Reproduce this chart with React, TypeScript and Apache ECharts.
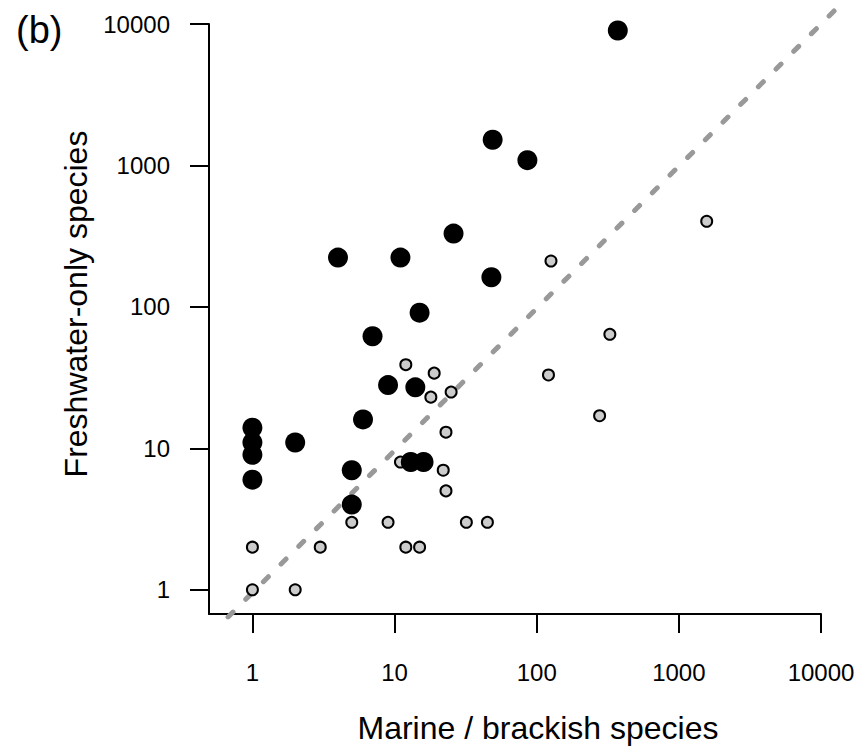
import React, { useEffect, useRef } from "react";
import * as echarts from "echarts";

// ---- data ----
const tickValues = [1, 10, 100, 1000, 10000];

// large black points
const blackX = [372, 49, 86, 26, 48, 4, 11, 15, 7, 9, 14, 6, 1, 1, 1, 1, 2, 5, 5, 13, 16];
const blackY = [9000, 1520, 1090, 330, 162, 223, 223, 91, 62, 28, 27, 16, 14, 11, 9, 6, 11, 7, 4, 8, 8];

// small grey points
const greyX = [1570, 126, 327, 121, 277, 12, 19, 25, 18, 23, 11, 22, 23, 5, 9, 32, 45, 1, 3, 12, 15, 1, 2];
const greyY = [403, 211, 64, 33, 17, 39, 34, 25, 23, 13, 8, 7, 5, 3, 3, 3, 3, 2, 2, 2, 2, 1, 1];

// 1:1 reference line (x = y), start and end values
const oneToOne = [0.674, 14000];

// axis extents (visible axes)
const xMin = 0.495;
const xMax = 10000;
const yMin = 0.674;
const yMax = 10000;
// extents of the full plotting region (the 1:1 line runs past the axes to the page edge)
const xMaxFull = 19410;
const yMaxFull = 14750;

const FONT = "'Liberation Sans', Arial, Helvetica, sans-serif";

export default function App() {
  const ref = useRef<HTMLDivElement>(null);

  useEffect(() => {
    if (!ref.current) return;
    const chart = echarts.init(ref.current, undefined, { renderer: "svg" });

    const fmt = (v: number) => String(Math.round(v));

    const hiddenAxis = {
      type: "log",
      logBase: 10,
      gridIndex: 1,
      show: false,
      axisLine: { show: false },
      axisTick: { show: false },
      axisLabel: { show: false },
      splitLine: { show: false },
    };

    const option: any = {
      animation: false,
      backgroundColor: "#ffffff",
      title: {
        text: "(b)",
        left: 11,
        top: 6,
        textStyle: { fontSize: 38, fontWeight: "normal", color: "#000", fontFamily: FONT },
      },
      grid: [
        { left: 209, right: 41, top: 24, bottom: 132, containLabel: false },
        { left: 209, right: 0, top: 0, bottom: 132, containLabel: false },
      ],
      xAxis: [
        {
          type: "log",
          logBase: 10,
          gridIndex: 0,
          min: xMin,
          max: xMax,
          name: "Marine / brackish species",
          nameLocation: "middle",
          nameGap: 98,
          nameTextStyle: { fontSize: 32, color: "#000", fontFamily: FONT, padding: [0, 0, 0, 46] },
          axisLine: { show: true, lineStyle: { color: "#000", width: 2 } },
          axisTick: {
            show: true,
            length: 19,
            customValues: tickValues,
            lineStyle: { color: "#000", width: 2 },
          },
          axisLabel: {
            customValues: tickValues,
            margin: 46,
            fontSize: 24,
            color: "#000",
            fontFamily: FONT,
            formatter: fmt,
          },
          splitLine: { show: false },
          minorTick: { show: false },
          minorSplitLine: { show: false },
        },
        { ...hiddenAxis, min: xMin, max: xMaxFull },
      ],
      yAxis: [
        {
          type: "log",
          logBase: 10,
          gridIndex: 0,
          min: yMin,
          max: yMax,
          name: "Freshwater-only species",
          nameLocation: "middle",
          nameGap: 117,
          nameRotate: 90,
          nameTextStyle: { fontSize: 32, color: "#000", fontFamily: FONT, padding: [0, 0, 0, 30] },
          axisLine: { show: true, lineStyle: { color: "#000", width: 2 } },
          axisTick: {
            show: true,
            length: 19,
            customValues: tickValues,
            lineStyle: { color: "#000", width: 2 },
          },
          axisLabel: {
            customValues: tickValues,
            margin: 39,
            fontSize: 24,
            color: "#000",
            fontFamily: FONT,
            padding: [4, 0, 0, 0],
            formatter: fmt,
          },
          splitLine: { show: false },
          minorTick: { show: false },
          minorSplitLine: { show: false },
        },
        { ...hiddenAxis, min: yMin, max: yMaxFull },
      ],
      series: [
        {
          type: "line",
          xAxisIndex: 1,
          yAxisIndex: 1,
          data: oneToOne.map((v) => [v, v]),
          showSymbol: false,
          symbol: "none",
          z: 1,
          lineStyle: { color: "#999999", width: 5, type: [7, 18], cap: "round" },
          silent: true,
        },
        {
          type: "scatter",
          xAxisIndex: 0,
          yAxisIndex: 0,
          data: greyX.map((x, i) => [x, greyY[i]]),
          symbol: "circle",
          symbolSize: 11,
          z: 2,
          itemStyle: { color: "#cccccc", borderColor: "#000", borderWidth: 2, opacity: 1 },
        },
        {
          type: "scatter",
          xAxisIndex: 0,
          yAxisIndex: 0,
          data: blackX.map((x, i) => [x, blackY[i]]),
          symbol: "circle",
          symbolSize: 20,
          z: 3,
          itemStyle: { color: "#000", opacity: 1 },
        },
      ],
    };

    chart.setOption(option);
    return () => chart.dispose();
  }, []);

  return (
    <div
      ref={ref}
      style={{ position: "fixed", left: 0, top: 0, width: 862, height: 749, background: "#fff" }}
    />
  );
}
